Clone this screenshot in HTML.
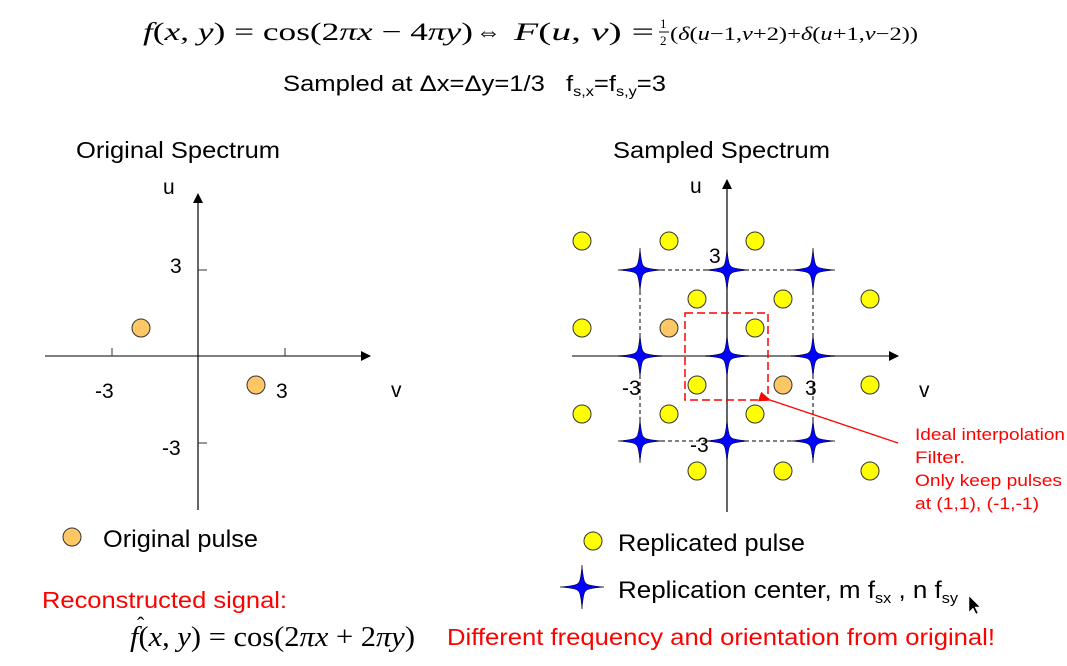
<!DOCTYPE html>
<html><head><meta charset="utf-8"><style>
html,body{margin:0;padding:0;background:#fff;}
svg{display:block;}
text{font-family:"Liberation Sans",sans-serif;}
.t{font-family:"Liberation Serif",serif;}
</style></head><body>
<svg width="1067" height="666" viewBox="0 0 1067 666" xmlns="http://www.w3.org/2000/svg">
<defs>
<marker id="ah" markerWidth="10" markerHeight="10" refX="9" refY="5" orient="auto" markerUnits="userSpaceOnUse"><path d="M0,0 L10,5 L0,10 Z" fill="#000"/></marker>
<marker id="ar" markerWidth="12" markerHeight="10" refX="1" refY="5" orient="auto" markerUnits="userSpaceOnUse"><path d="M12,0 L0,5 L12,10 Z" fill="red"/></marker>
<path id="st" d="M0,-22 Q1.5,-4 4,-4 Q4,-1.5 22,0 Q4,1.5 4,4 Q1.5,4 0,22 Q-1.5,4 -4,4 Q-4,1.5 -22,0 Q-4,-1.5 -4,-4 Q-1.5,-4 0,-22 Z" fill="#0000ff" stroke="#000" stroke-width="0.5"/>
</defs>

<!-- top formula -->
<text x="143" y="40" font-size="25" class="t" textLength="330" lengthAdjust="spacingAndGlyphs"><tspan font-style="italic">f</tspan>(<tspan font-style="italic">x</tspan>, <tspan font-style="italic">y</tspan>) = cos(2<tspan font-style="italic">πx</tspan> − 4<tspan font-style="italic">πy</tspan>)</text>
<text x="476" y="40" font-size="25" class="t">⇔</text>
<text x="514" y="40" font-size="25" class="t" textLength="140" lengthAdjust="spacingAndGlyphs"><tspan font-style="italic">F</tspan>(<tspan font-style="italic">u</tspan>, <tspan font-style="italic">v</tspan>) =</text>
<text x="660" y="28" font-size="13" class="t">1</text>
<line x1="659" y1="32" x2="669" y2="32" stroke="#000" stroke-width="1"/>
<text x="660" y="45" font-size="13" class="t">2</text>
<text x="670" y="40" font-size="19" class="t" textLength="248" lengthAdjust="spacingAndGlyphs">(<tspan font-style="italic">δ</tspan>(<tspan font-style="italic">u</tspan>−1,<tspan font-style="italic">v</tspan>+2)+<tspan font-style="italic">δ</tspan>(<tspan font-style="italic">u</tspan>+1,<tspan font-style="italic">v</tspan>−2))</text>

<text x="283" y="91" font-size="22" textLength="383" lengthAdjust="spacingAndGlyphs">Sampled at Δx=Δy=1/3 <tspan dx="12">f</tspan><tspan font-size="14" dy="5">s,x</tspan><tspan dy="-5">=f</tspan><tspan font-size="14" dy="5">s,y</tspan><tspan dy="-5">=3</tspan></text>

<text x="76" y="158" font-size="23" textLength="204" lengthAdjust="spacingAndGlyphs">Original Spectrum</text>
<text x="613" y="158" font-size="23" textLength="217" lengthAdjust="spacingAndGlyphs">Sampled Spectrum</text>

<!-- left plot -->
<line x1="45" y1="356" x2="370" y2="356" stroke="#555" stroke-width="1.5" marker-end="url(#ah)"/>
<line x1="198" y1="510" x2="198" y2="194" stroke="#000" stroke-width="1.2" marker-end="url(#ah)"/>
<line x1="112" y1="348" x2="112" y2="356" stroke="#333"/>
<line x1="285" y1="348" x2="285" y2="356" stroke="#333"/>
<line x1="198" y1="270" x2="207" y2="270" stroke="#333"/>
<line x1="198" y1="443" x2="207" y2="443" stroke="#333"/>
<circle cx="141" cy="328" r="9" fill="#fdc766" stroke="#333"/>
<circle cx="256" cy="385" r="9" fill="#fdc766" stroke="#333"/>
<text x="170" y="273" font-size="21">3</text>
<text x="95" y="398" font-size="21">-3</text>
<text x="276" y="398" font-size="21">3</text>
<text x="162" y="455" font-size="21">-3</text>
<text x="163" y="194" font-size="21">u</text>
<text x="391" y="397" font-size="21">v</text>

<!-- right plot -->
<g stroke="#000" stroke-width="1" stroke-dasharray="4,3">
<line x1="640" y1="270" x2="813" y2="270"/>
<line x1="640" y1="441" x2="813" y2="441"/>
<line x1="640" y1="270" x2="640" y2="441"/>
<line x1="813" y1="270" x2="813" y2="441"/>
</g>
<line x1="572" y1="356" x2="898" y2="356" stroke="#555" stroke-width="1.5" marker-end="url(#ah)"/>
<line x1="727" y1="512" x2="727" y2="180" stroke="#000" stroke-width="1.2" marker-end="url(#ah)"/>
<g stroke="#333" stroke-width="1">
<circle cx="582" cy="241" r="9" fill="#ffff00"/><circle cx="669" cy="241" r="9" fill="#ffff00"/><circle cx="755" cy="241" r="9" fill="#ffff00"/>
<circle cx="697" cy="299" r="9" fill="#ffff00"/><circle cx="783" cy="299" r="9" fill="#ffff00"/><circle cx="870" cy="299" r="9" fill="#ffff00"/>
<circle cx="582" cy="328" r="9" fill="#ffff00"/><circle cx="669" cy="328" r="9" fill="#fdc766"/><circle cx="755" cy="328" r="9" fill="#ffff00"/>
<circle cx="697" cy="385" r="9" fill="#ffff00"/><circle cx="783" cy="385" r="9" fill="#fdc766"/><circle cx="870" cy="385" r="9" fill="#ffff00"/>
<circle cx="582" cy="414" r="9" fill="#ffff00"/><circle cx="669" cy="414" r="9" fill="#ffff00"/><circle cx="755" cy="414" r="9" fill="#ffff00"/>
<circle cx="697" cy="471" r="9" fill="#ffff00"/><circle cx="783" cy="471" r="9" fill="#ffff00"/><circle cx="870" cy="471" r="9" fill="#ffff00"/>
</g>
<use href="#st" x="640" y="270"/><use href="#st" x="727" y="270"/><use href="#st" x="813" y="270"/>
<use href="#st" x="640" y="356"/><use href="#st" x="727" y="356"/><use href="#st" x="813" y="356"/>
<use href="#st" x="640" y="441"/><use href="#st" x="727" y="441"/><use href="#st" x="813" y="441"/>
<rect x="685" y="313" width="83" height="87" fill="none" stroke="red" stroke-width="1.5" stroke-dasharray="8,4"/>
<line x1="898" y1="443" x2="770" y2="400" stroke="red" stroke-width="1.2" marker-end="url(#ar)"/>
<text x="709" y="263" font-size="21">3</text>
<text x="622" y="395" font-size="21">-3</text>
<text x="805" y="395" font-size="21">3</text>
<text x="690" y="452" font-size="21">-3</text>
<text x="690" y="193" font-size="21">u</text>
<text x="919" y="397" font-size="21">v</text>

<g fill="red" font-size="17">
<text x="915" y="440" textLength="150" lengthAdjust="spacingAndGlyphs">Ideal interpolation</text>
<text x="915" y="463" textLength="50" lengthAdjust="spacingAndGlyphs">Filter.</text>
<text x="915" y="486" textLength="147" lengthAdjust="spacingAndGlyphs">Only keep pulses</text>
<text x="915" y="509" textLength="124" lengthAdjust="spacingAndGlyphs">at (1,1), (-1,-1)</text>
</g>

<!-- legends -->
<circle cx="72" cy="537" r="9" fill="#fdc766" stroke="#333"/>
<text x="103" y="547" font-size="24" textLength="155" lengthAdjust="spacingAndGlyphs">Original pulse</text>
<circle cx="593" cy="541" r="9" fill="#ffff00" stroke="#333"/>
<text x="618" y="551" font-size="24" textLength="187" lengthAdjust="spacingAndGlyphs">Replicated pulse</text>
<use href="#st" x="582" y="587"/>
<text x="618" y="598" font-size="24" textLength="340" lengthAdjust="spacingAndGlyphs">Replication center, m f<tspan font-size="15" dy="5">sx</tspan><tspan dy="-5"> , n f</tspan><tspan font-size="15" dy="5">sy</tspan></text>
<path d="M969,596 L969,612 L973,608 L976,614 L978,613 L975,607 L980,607 Z" fill="#000" stroke="#fff" stroke-width="0.5"/>

<text x="42" y="608" font-size="23" fill="red" textLength="245" lengthAdjust="spacingAndGlyphs">Reconstructed signal:</text>
<text x="130" y="646" font-size="29" class="t" textLength="285" lengthAdjust="spacingAndGlyphs"><tspan font-style="italic">f</tspan>(<tspan font-style="italic">x</tspan>, <tspan font-style="italic">y</tspan>) = cos(2<tspan font-style="italic">πx</tspan> + 2<tspan font-style="italic">πy</tspan>)</text>
<text x="137" y="632" font-size="22" class="t">ˆ</text>
<text x="447" y="645" font-size="23" fill="red" textLength="548" lengthAdjust="spacingAndGlyphs">Different frequency and orientation from original!</text>
</svg>
</body></html>
